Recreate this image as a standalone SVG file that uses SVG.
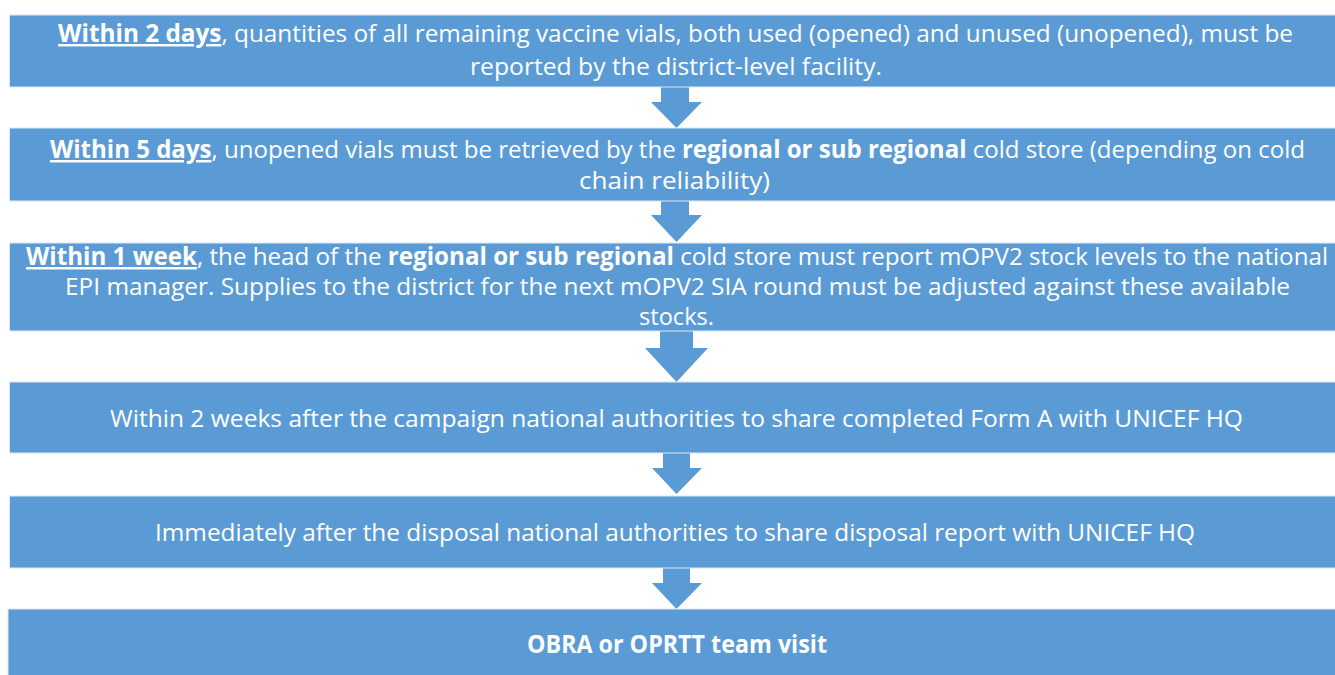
<svg xmlns="http://www.w3.org/2000/svg" width="1335" height="675" viewBox="0 0 1335 675">
<style>
.box{fill:#5B9BD5;stroke:#DCE8F5;stroke-width:1}
.arr{fill:#5B9BD5}
text{font-family:"Open Sans","Liberation Sans",sans-serif;font-size:24.5px;fill:#FFFFFF}
.b{font-weight:bold}
.u{font-weight:bold;text-decoration:underline}
</style>
<rect width="1335" height="675" fill="#FFFFFF"/>
<g id="connectors">
<polygon class="arr" points="661,86 689,86 689,102 702,102 676.5,128 651,102 661,102"/>
<polygon class="arr" points="661,200 689,200 689,215 702,215 676.5,242 651,215 661,215"/>
<polygon class="arr" points="660,331 693,331 693,348 708,348 676.5,382 645,348 660,348"/>
<polygon class="arr" points="663,453 690,453 690,468 702,468 676.5,494 652,468 663,468"/>
<polygon class="arr" points="663,567 690,567 690,583 702,583 676.5,609 652,583 663,583"/>
</g>
<g id="node1">
<rect class="box" x="9.5" y="15" width="1330" height="72"/>
<text x="58" y="42" textLength="1235" lengthAdjust="spacingAndGlyphs"><tspan class="u">Within 2 days</tspan>,  quantities of all remaining vaccine vials, both used (opened) and unused (unopened), must be</text>
<text x="470" y="75" textLength="412" lengthAdjust="spacingAndGlyphs">reported by the district-level facility.</text>
</g>
<g id="node2">
<rect class="box" x="9.5" y="128" width="1330" height="73"/>
<text x="50" y="158" textLength="1255" lengthAdjust="spacingAndGlyphs"><tspan class="u">Within 5 days</tspan>, unopened vials must be retrieved by the <tspan class="b">regional or sub regional</tspan> cold store (depending on cold</text>
<text x="579" y="189" textLength="191" lengthAdjust="spacingAndGlyphs">chain reliability)</text>
</g>
<g id="node3">
<rect class="box" x="9.5" y="243" width="1330" height="88"/>
<text x="26" y="265" textLength="1302" lengthAdjust="spacingAndGlyphs"><tspan class="u">Within 1 week</tspan>, the head of the <tspan class="b">regional or sub regional</tspan> cold store must report mOPV2 stock levels to the national</text>
<text x="65" y="295" textLength="1225" lengthAdjust="spacingAndGlyphs">EPI manager. Supplies to the district for the next mOPV2 SIA round must be adjusted against these available</text>
<text x="639" y="325" textLength="75" lengthAdjust="spacingAndGlyphs">stocks.</text>
</g>
<g id="node4">
<rect class="box" x="9.5" y="382" width="1330" height="71"/>
<text x="110" y="427" textLength="1133" lengthAdjust="spacingAndGlyphs">Within 2 weeks after the campaign national authorities to share completed Form A with UNICEF  HQ</text>
</g>
<g id="node5">
<rect class="box" x="9.5" y="496" width="1330" height="72"/>
<text x="155" y="541" textLength="1040" lengthAdjust="spacingAndGlyphs">Immediately after the disposal national authorities to share disposal report with UNICEF HQ</text>
</g>
<g id="node6">
<rect class="box" x="8" y="609" width="1332" height="70"/>
<text class="b" x="527" y="653" textLength="300" lengthAdjust="spacingAndGlyphs">OBRA or OPRTT team visit</text>
</g>
</svg>
